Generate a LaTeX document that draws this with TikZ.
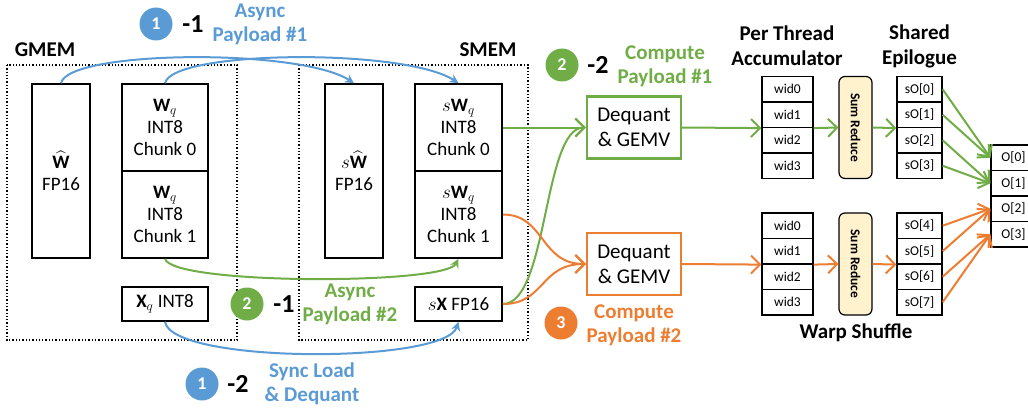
\RequirePackage{fix-cm}
\documentclass[tikz,border=0pt]{standalone}
\usepackage{amsmath}
\usepackage{fontspec}
\setmainfont{Carlito}
\usepackage{tikz}
\usetikzlibrary{arrows.meta, positioning, calc}

\definecolor{loadBlue}{HTML}{5B9BD5}
\definecolor{asyncGreen}{HTML}{70AD47}
\definecolor{computeOrange}{HTML}{ED7D31}
\definecolor{reduceYellow}{HTML}{FFF2CC}

% name, x, top y, width, labels
\newcommand{\DrawCells}[5]{
    \foreach \lbl [count=\i from 0] in {#5} {
        \node[cellBox, minimum width=#4] (#1\i) at (#2, {#3+12.75+25.5*\i}) {\lbl};
    }
}

\tikzset{
    % Memory
    memFrame/.style={draw=black, dotted, line width=1.3pt},
    memBox/.style={draw=black, line width=1.6pt, inner sep=0pt, align=center, font=\fontsize{19}{22}\selectfont},
    memTitle/.style={align=center, font=\bfseries\fontsize{21}{25}\selectfont},
    % Compute
    gemvBox/.style={draw, line width=2.4pt, fill=white, inner sep=0pt, align=center, minimum width=94pt, minimum height=62pt, font=\fontsize{21}{25}\selectfont},
    cellBox/.style={draw=black, line width=1.2pt, inner sep=0pt, minimum height=25.5pt, font=\fontsize{13.5}{16}\selectfont},
    sumBox/.style={draw=black, line width=1.2pt, fill=reduceYellow, rounded corners=6pt, rotate=-90, minimum width=102pt, minimum height=33pt, inner sep=0pt, font=\bfseries\fontsize{13.5}{15}\selectfont},
    % Arrows
    copyArrow/.style={-{Stealth[length=9pt,width=9pt]}, line width=2pt},
    flowArrow/.style={-{Straight Barb[length=9pt,width=18pt]}, line width=2pt},
    % Step labels
    stepDot/.style={circle, minimum size=33pt, inner sep=0pt, text=white, font=\bfseries\fontsize{18}{20}\selectfont},
    stepNum/.style={font=\bfseries\fontsize{26}{28}\selectfont},
    stepText/.style={align=center, font=\bfseries\fontsize{21}{24}\selectfont}
}

\begin{document}
\begin{tikzpicture}[x=1pt, y=-1pt]
    \useasboundingbox (0,0) rectangle (1028,412);

    % GMEM
    \draw[memFrame] (7,65) rectangle (237,340);
    \node[memTitle] (gmemTitle) at (45,50) {GMEM};
    \node[memBox, minimum width=58pt, minimum height=174pt] (gW) at (61,171) {$\widehat{\mathbf{W}}$\\FP16};
    \node[memBox, minimum width=86pt, minimum height=87pt] (gWq0) at (165,127.5) {$\mathbf{W}_q$\\INT8\\Chunk 0};
    \node[memBox, minimum width=86pt, minimum height=87pt] (gWq1) at (165,214.5) {$\mathbf{W}_q$\\INT8\\Chunk 1};
    \node[memBox, minimum width=86pt, minimum height=34pt] (gXq) at (165,304) {$\mathbf{X}_q$ INT8};

    % SMEM
    \draw[memFrame] (299,65) rectangle (528,340);
    \node[memTitle] (smemTitle) at (488,50) {SMEM};
    \node[memBox, minimum width=58pt, minimum height=174pt] (sW) at (354,171) {$s\widehat{\mathbf{W}}$\\FP16};
    \node[memBox, minimum width=87pt, minimum height=87pt] (sWq0) at (458.5,127.5) {$s\mathbf{W}_q$\\INT8\\Chunk 0};
    \node[memBox, minimum width=87pt, minimum height=87pt] (sWq1) at (458.5,214.5) {$s\mathbf{W}_q$\\INT8\\Chunk 1};
    \node[memBox, minimum width=87pt, minimum height=34pt] (sX) at (458.5,304) {$s\mathbf{X}$ FP16};

    % GMEM -> SMEM
    \draw[copyArrow, loadBlue] (gW.north) .. controls (68,50) and (300,48) .. (sW.north);
    \draw[copyArrow, loadBlue] (gWq0.north) .. controls (172,50) and (405,48) .. (sWq0.north);
    \draw[copyArrow, asyncGreen] (gWq1.south) .. controls (172,285) and (445,285) .. (sWq1.south);
    \draw[copyArrow, loadBlue] (gXq.south) .. controls (172,364) and (445,364) .. (sX.south);

    \node[stepDot, fill=loadBlue] (dotA) at (156,24) {1};
    \node[stepNum] (numA) at (193,24) {-1};
    \node[stepText, text=loadBlue] (txtA) at (260,24) {Async\\Payload \#1};
    \node[stepDot, fill=asyncGreen] (dotB) at (247,304) {2};
    \node[stepNum] (numB) at (284,304) {-1};
    \node[stepText, text=asyncGreen] (txtB) at (350,304) {Async\\Payload \#2};
    \node[stepDot, fill=loadBlue] (dotC) at (202,384) {1};
    \node[stepNum] (numC) at (238,384) {-2};
    \node[stepText, text=loadBlue] (txtC) at (312,384) {Sync Load\\\& Dequant};

    % Dequant & GEMV
    \node[gemvBox, draw=asyncGreen] (deqA) at (634,127.5) {Dequant\\\& GEMV};
    \node[gemvBox, draw=computeOrange] (deqB) at (634,264) {Dequant\\\& GEMV};
    \draw[flowArrow, asyncGreen] (sWq0.east) -- (deqA.west);
    \draw[flowArrow, asyncGreen] (sX.east) .. controls (548,304) and (543,128) .. (deqA.west);
    \draw[flowArrow, computeOrange] (sWq1.east) .. controls (545,214.5) and (540,264) .. (deqB.west);
    \draw[flowArrow, computeOrange] (sX.east) .. controls (545,304) and (540,264) .. (deqB.west);

    \node[stepDot, fill=asyncGreen] (dotD) at (562,65) {2};
    \node[stepNum] (numD) at (598,65) {-2};
    \node[stepText, text=asyncGreen] (txtD) at (665,66) {Compute\\Payload \#1};
    \node[stepDot, fill=computeOrange] (dotE) at (561,323) {3};
    \node[stepText, text=computeOrange] (txtE) at (634,325) {Compute\\Payload \#2};

    % Accumulators, reduce, epilogue
    \node[memTitle] (accTitle) at (787,46) {Per Thread\\Accumulator};
    \node[memTitle] (epiTitle) at (919.5,46) {Shared\\Epilogue};
    \node[memTitle] (warpTitle) at (856,333) {Warp Shuffle};

    \DrawCells{accA}{787.5}{76.5}{51pt}{wid0,wid1,wid2,wid3}
    \DrawCells{accB}{787.5}{213}{51pt}{wid0,wid1,wid2,wid3}
    \node[sumBox] (sumA) at (855.5,127.5) {Sum Reduce};
    \node[sumBox] (sumB) at (855.5,264) {Sum Reduce};
    \DrawCells{epiA}{919.5}{76.5}{45pt}{sO[0],sO[1],sO[2],sO[3]}
    \DrawCells{epiB}{919.5}{213}{45pt}{sO[4],sO[5],sO[6],sO[7]}
    \DrawCells{out}{1013.5}{145}{45pt}{O[0],O[1],O[2],O[3]}

    \draw[flowArrow, asyncGreen] (deqA.east) -- (accA1.south west);
    \draw[flowArrow, asyncGreen] (accA1.south east) -- (sumA.south);
    \draw[flowArrow, asyncGreen] (sumA.north) -- (epiA1.south west);
    \draw[flowArrow, computeOrange] (deqB.east) -- (accB1.south west);
    \draw[flowArrow, computeOrange] (accB1.south east) -- (sumB.south);
    \draw[flowArrow, computeOrange] (sumB.north) -- (epiB1.south west);

    \draw[flowArrow, asyncGreen] (epiA0.east) -- (out0.west);
    \draw[flowArrow, asyncGreen] (epiA1.east) -- (out0.west);
    \draw[flowArrow, asyncGreen] (epiA2.east) -- (out1.west);
    \draw[flowArrow, asyncGreen] (epiA3.east) -- (out1.west);
    \draw[flowArrow, computeOrange] (epiB0.east) -- (out2.west);
    \draw[flowArrow, computeOrange] (epiB1.east) -- (out2.west);
    \draw[flowArrow, computeOrange] (epiB2.east) -- (out3.west);
    \draw[flowArrow, computeOrange] (epiB3.east) -- (out3.west);
\end{tikzpicture}
\end{document}
